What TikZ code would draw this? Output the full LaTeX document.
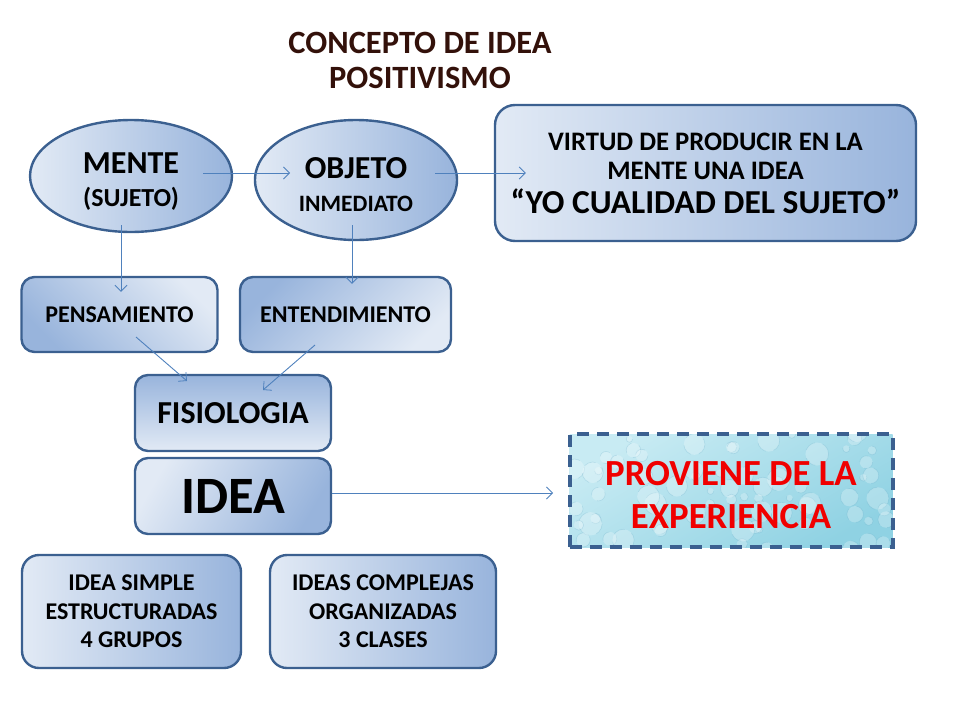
\documentclass[tikz,border=0pt]{standalone}
\usepackage{fontspec}
\setmainfont{Carlito}
\usetikzlibrary{shapes.geometric,arrows.meta,calc}
\definecolor{bordc}{HTML}{3B6090}
\definecolor{lightb}{HTML}{E2EAF5}
\definecolor{darkb}{HTML}{98B4DC}
\definecolor{arrc}{HTML}{4F81BD}
\definecolor{titlec}{HTML}{33110A}
\definecolor{aqua1}{HTML}{C8EBF3}
\definecolor{aqua2}{HTML}{8FD2E3}
\definecolor{redt}{HTML}{F00000}
\tikzset{
  grad/.style={shading=axis, top color=lightb, bottom color=darkb, shading angle=#1},
  boxc/.style={draw=bordc, line width=2.4pt, rounded corners=13pt, inner sep=0pt, align=center},
  ellc/.style={ellipse, draw=bordc, line width=2.4pt, inner sep=0pt, align=center, minimum width=202pt},
  arr/.style={draw=arrc, line width=0.9pt, -{Straight Barb[length=6pt,width=12pt,line width=0.8pt]}},
}
\begin{document}
\begin{tikzpicture}[x=1pt,y=-1pt]
\useasboundingbox (0,0) rectangle (960,720);
% title
\node[font=\bfseries\fontsize{32.5}{35}\selectfont, text=titlec, align=center, inner sep=0pt] (title) at (420,60) {CONCEPTO DE IDEA\\POSITIVISMO};
% ellipses
\node[ellc, grad=90, minimum height=112pt, font=\bfseries\fontsize{26}{33}\selectfont] (mente) at (131,176)
  {{\fontsize{32}{33}\selectfont\rule{0pt}{31pt}MENTE}\\(SUJETO)};
\node[ellc, grad=90, minimum height=120pt, font=\bfseries\fontsize{23.5}{33}\selectfont] (objeto) at (356,180)
  {{\fontsize{32}{33}\selectfont\rule{0pt}{31pt}OBJETO}\\INMEDIATO};
% virtud
\node[boxc, grad=90, rounded corners=20pt, minimum width=421pt, minimum height=136pt, font=\bfseries\fontsize{26.7}{29}\selectfont] (virtud) at (705.5,173)
  {VIRTUD DE PRODUCIR EN LA\\MENTE UNA IDEA\\[5pt]{\fontsize{33.5}{34}\selectfont “YO CUALIDAD DEL SUJETO”}};
% second row
\node[boxc, grad=-45, minimum width=196pt, minimum height=75pt, font=\bfseries\fontsize{24}{26}\selectfont] (pens) at (119.5,314.5) {PENSAMIENTO};
\node[boxc, grad=-135, minimum width=211pt, minimum height=75pt, font=\bfseries\fontsize{24}{26}\selectfont] (ent) at (345.5,314.5) {ENTENDIMIENTO};
\node[boxc, grad=180, minimum width=196pt, minimum height=76pt, font=\bfseries\fontsize{32}{34}\selectfont] (fis) at (233,413) {FISIOLOGIA};
\node[boxc, grad=60, minimum width=196pt, minimum height=76pt, font=\bfseries\fontsize{52.5}{56}\selectfont] (idea) at (233,496) {IDEA};
% proviene
\node[draw=bordc, line width=4pt, dash pattern=on 12pt off 8pt, inner sep=0pt,
  minimum width=323pt, minimum height=113pt, shading=axis, top color=aqua1, bottom color=aqua2, shading angle=30,
  align=center, text=redt, font=\bfseries\fontsize{36.8}{43}\selectfont,
  path picture={
    \pgfmathsetseed{7}
    \foreach \i in {1,...,70}{
      \pgfmathsetmacro{\px}{rand*165}
      \pgfmathsetmacro{\py}{rand*60}
      \pgfmathsetmacro{\pr}{3+rnd*9}
      \fill[white, opacity=0.25] ($(path picture bounding box.center)+(\px,\py)$) circle (\pr);
      \draw[cyan!40!teal, opacity=0.18, line width=0.6pt] ($(path picture bounding box.center)+(\px,\py)$) circle (\pr);
    }
  }] (prov) at (731,490.5) {\rule{0pt}{34pt}PROVIENE DE LA\\EXPERIENCIA};
% bottom row
\node[boxc, grad=90, rounded corners=17pt, minimum width=219pt, minimum height=113pt, font=\bfseries\fontsize{24}{28.5}\selectfont] (simple) at (131.5,611.5) {IDEA SIMPLE\\ESTRUCTURADAS\\4 GRUPOS};
\node[boxc, grad=90, rounded corners=17pt, minimum width=226pt, minimum height=113pt, font=\bfseries\fontsize{24}{28.5}\selectfont] (compl) at (383,611.5) {IDEAS COMPLEJAS\\ORGANIZADAS\\3 CLASES};
% connectors
\draw[arr] ([xshift=72pt,yshift=3pt]mente.center) -- ([xshift=-66pt,yshift=7pt]objeto.center);
\draw[arr] ([xshift=79pt,yshift=7pt]objeto.center) -- ([xshift=32pt]virtud.west);
\draw[arr] ([xshift=-10pt,yshift=-49pt]mente.center) -- ([xshift=1.5pt,yshift=-16pt]pens.north);
\draw[arr] ([xshift=-4pt,yshift=-45pt]objeto.center) -- ([xshift=6.5pt,yshift=-8pt]ent.north);
\draw[arr] ([xshift=16.5pt,yshift=-22.5pt]pens.center) -- ([xshift=-46pt,yshift=32pt]fis.center);
\draw[arr] ([xshift=-30.5pt,yshift=-30.5pt]ent.center) -- ([xshift=30pt,yshift=23pt]fis.center);
\draw[arr] ([yshift=3pt]idea.east) -- ([xshift=-14.5pt,yshift=-2.5pt]prov.west);
\end{tikzpicture}
\end{document}
